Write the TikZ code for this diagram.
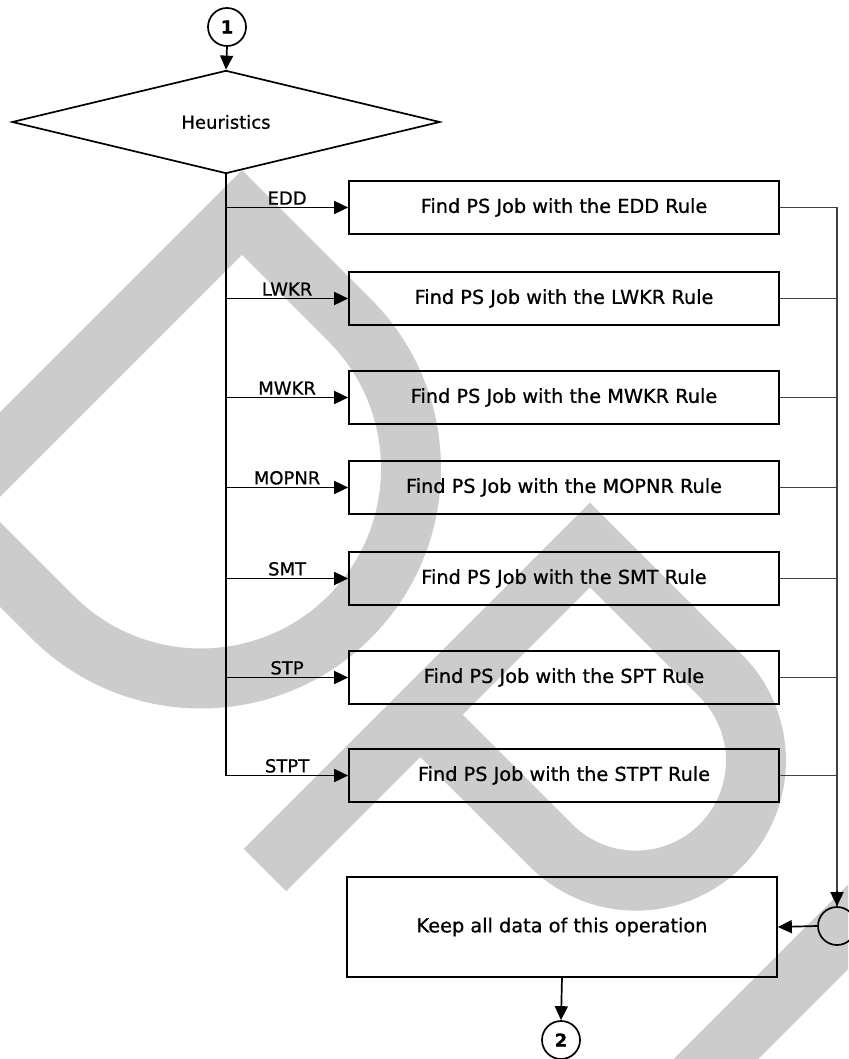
\documentclass[tikz,border=0pt]{standalone}
\usepackage{fontspec}
\setmainfont{DejaVu Sans}[FakeBold=0.8]
\usetikzlibrary{shapes.geometric,arrows.meta}
\begin{document}
\begin{tikzpicture}[x=1pt,y=-1pt,
  every node/.style={font=\fontsize{19.3}{22}\selectfont},
  ln/.style={line width=1.7pt, draw=black},
  arr/.style={ln, -{Triangle[length=14pt,width=13pt]}},
  busln/.style={line width=1.2pt, draw=black!75},
  box/.style={draw, line width=1.7pt, minimum width=430pt, minimum height=52.5pt, inner sep=0pt},
  conn/.style={circle, draw, line width=1.7pt, minimum size=38pt, inner sep=0pt, font=\fontsize{18}{22}\selectfont\bfseries},
  lab/.style={anchor=south, inner sep=2pt, font=\fontsize{18}{22}\selectfont},
  wm/.style={draw=black!20, line width=60pt, line join=miter, line cap=butt}
]
\useasboundingbox (0,0) rectangle (848,1059);
% watermark
\begin{scope}
\clip (0,0) rectangle (848,1059);
\draw[wm] (-55,509.5) -- (242,212.5) -- (349.5,320) arc[start angle=-45,end angle=135,radius=210] -- cycle;
\draw[wm] (265,870) -- (590,545) -- (720.8,675.8) arc[start angle=-45,end angle=135,radius=120] -- (420.3,714.7);
\draw[wm] (695,1080) -- (905,870);
\end{scope}
% nodes
\node[conn] (c1) at (227,27) {1};
\node[diamond, ln, minimum width=428pt, minimum height=75pt, inner sep=0pt, font=\fontsize{18}{22}\selectfont] (heur) at (226,122) {Heuristics};
\node[box] (b1) at (564,207.5) {Find PS Job with the EDD Rule};
\node[box] (b2) at (564,298.5) {Find PS Job with the LWKR Rule};
\node[box] (b3) at (564,397.5) {Find PS Job with the MWKR Rule};
\node[box] (b4) at (564,487.5) {Find PS Job with the MOPNR Rule};
\node[box] (b5) at (564,578.5) {Find PS Job with the SMT Rule};
\node[box] (b6) at (564,677.5) {Find PS Job with the SPT Rule};
\node[box] (b7) at (564,775.5) {Find PS Job with the STPT Rule};
\node[box, minimum height=100pt] (keep) at (562,927) {Keep all data of this operation};
\node[conn] (merge) at (837,926) {};
\node[conn] (c2) at (561,1040) {2};
% connectors
\draw[arr] (c1.south) -- (heur.north);
\draw[arr] (heur.south) |- node[lab, pos=0.75] {EDD} (b1.west);
\draw[arr] (heur.south) |- node[lab, pos=0.75] {LWKR} (b2.west);
\draw[arr] (heur.south) |- node[lab, pos=0.75] {MWKR} (b3.west);
\draw[arr] (heur.south) |- node[lab, pos=0.75] {MOPNR} (b4.west);
\draw[arr] (heur.south) |- node[lab, pos=0.75] {SMT} (b5.west);
\draw[arr] (heur.south) |- node[lab, pos=0.75] {STP} (b6.west);
\draw[arr] (heur.south) |- node[lab, pos=0.75] {STPT} (b7.west);
\draw[busln] (b1.east) -| (merge.north);
\draw[arr] ([yshift=-1pt]merge.north) ++(0,-16) -- (merge.north);
\foreach \k in {2,...,7} {\draw[busln] (b\k.east) -- (b\k.east -| merge.north);}
\draw[arr] (merge.west) -- (keep.east);
\draw[arr] (keep.south) -- (c2.north);
\end{tikzpicture}
\end{document}
